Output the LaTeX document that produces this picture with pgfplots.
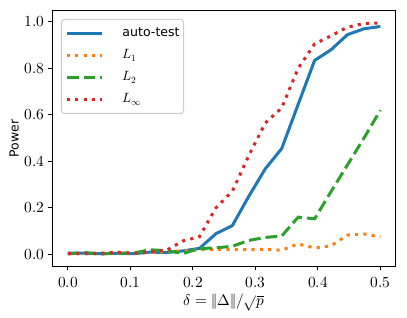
\documentclass[border=0pt]{standalone}
\usepackage{pgfplots}
\pgfplotsset{compat=1.18}
\usepackage{pgfplotstable}
\usepackage{fontspec}
\usepackage{unicode-math}
\setmainfont{DejaVu Sans}
\setmathfont{Latin Modern Math}
\definecolor{tabblue}{HTML}{1F77B4}
\definecolor{taborange}{HTML}{FF7F0E}
\definecolor{tabgreen}{HTML}{2CA02C}
\definecolor{tabred}{HTML}{D62728}
\pgfplotstableread{
x auto l1 l2 linf
0.000000 0.005 0.003 0.002 0.004
0.026316 0.005 0.004 0.008 0.003
0.052632 0.003 0.002 0.002 0.005
0.078947 0.005 0.006 0.006 0.010
0.105263 0.003 0.005 0.006 0.004
0.131579 0.010 0.008 0.020 0.012
0.157895 0.008 0.012 0.016 0.018
0.184211 0.015 0.015 0.004 0.058
0.210526 0.026 0.020 0.025 0.076
0.236842 0.089 0.022 0.028 0.200
0.263158 0.124 0.022 0.035 0.272
0.289474 0.250 0.020 0.060 0.425
0.315789 0.368 0.022 0.073 0.565
0.342105 0.455 0.018 0.079 0.630
0.368421 0.645 0.045 0.160 0.800
0.394737 0.834 0.028 0.153 0.905
0.421053 0.880 0.037 0.270 0.940
0.447368 0.945 0.083 0.385 0.977
0.473684 0.970 0.088 0.500 0.993
0.500000 0.980 0.075 0.620 0.995
}\datatable
\newcommand{\lm}[1]{{\fontsize{13.5}{15}\selectfont$#1$}}
\begin{document}
\begin{tikzpicture}
\useasboundingbox (-52.3bp,-52bp) rectangle (354.7bp,266bp);
\begin{axis}[
  scale only axis,
  width=343.7bp, height=255.3bp,
  xmin=-0.025, xmax=0.525,
  ymin=-0.0499, ymax=1.0479,
  xtick={0,0.1,0.2,0.3,0.4,0.5},
  ytick={0,0.2,0.4,0.6,0.8,1.0},
  tick pos=left,
  tick align=outside,
  major tick length=4.4bp,
  every tick/.style={black, line width=1bp},
  axis line style={black, line width=1bp},
  ticklabel style={font=\fontsize{15.5}{18}\selectfont},
  xticklabel style={yshift=-3bp, /pgf/number format/.cd, fixed, fixed zerofill, precision=1},
  yticklabel style={/pgf/number format/.cd, fixed, fixed zerofill, precision=1},
  xlabel={$\delta = \|\Delta\|/\sqrt{p}$},
  xlabel style={font=\fontsize{15.3}{18}\selectfont, yshift=0bp},
  ylabel={Power},
  ylabel style={font=\fontsize{12.5}{15}\selectfont, yshift=-1bp},
  legend cell align=left,
  legend image code/.code={\draw[#1] (0bp,0bp) -- (35bp,0bp);},
  legend style={
    at={(0.0253,0.9675)}, anchor=north west,
    draw=black!20, line width=1bp, rounded corners=3bp,
    fill=white, fill opacity=0.8, text opacity=1,
    font=\fontsize{12.6}{15}\selectfont,
    inner xsep=4bp, inner ysep=7bp,
    row sep=8bp,
    nodes={text height=10bp, text depth=4bp, inner sep=0pt},
    /tikz/every odd column/.append style={column sep=19bp},
  },
]
\addplot[tabblue, line width=3bp] table[x=x, y=auto] {\datatable};
\addlegendentry{auto-test}
\addplot[taborange, line width=3bp, dash pattern=on 3.15bp off 5.2bp] table[x=x, y=l1] {\datatable};
\addlegendentry{\lm{L_1}}
\addplot[tabgreen, line width=3bp, dash pattern=on 11.7bp off 5bp] table[x=x, y=l2] {\datatable};
\addlegendentry{\lm{L_2}}
\addplot[tabred, line width=3bp, dash pattern=on 3.15bp off 5.2bp] table[x=x, y=linf] {\datatable};
\addlegendentry{\lm{L_\infty}}
\end{axis}
\end{tikzpicture}
\end{document}
